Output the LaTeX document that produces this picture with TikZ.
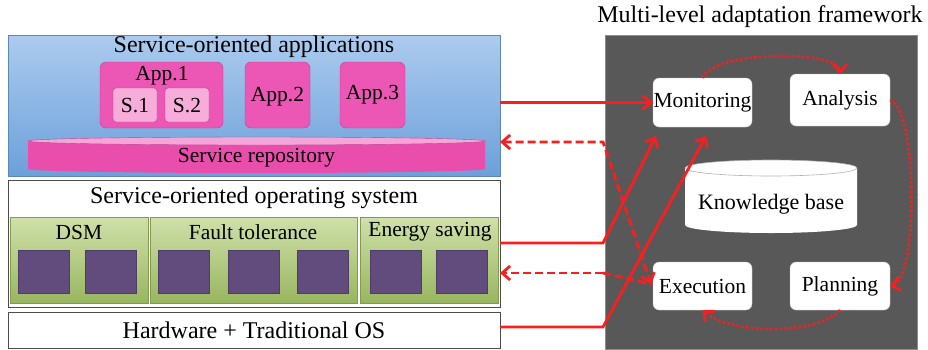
\documentclass[tikz,border=0pt]{standalone}
\usepackage{fontspec}
\setmainfont{Liberation Serif}
\usetikzlibrary{arrows.meta,calc}
\definecolor{redarr}{RGB}{250,30,30}
\definecolor{appink}{RGB}{236,86,180}
\definecolor{spink}{RGB}{248,172,218}
\definecolor{repopink}{RGB}{233,78,172}
\definecolor{repotop}{RGB}{246,165,216}
\definecolor{bluetop}{RGB}{172,203,238}
\definecolor{bluebot}{RGB}{108,160,218}
\definecolor{greentop}{RGB}{208,224,170}
\definecolor{greenbot}{RGB}{152,182,94}
\definecolor{purp}{RGB}{98,76,126}
\definecolor{panel}{RGB}{88,88,88}
\tikzset{
 big/.style={font=\fontsize{24}{28}\selectfont, inner sep=0pt},
 mid/.style={font=\fontsize{21.5}{25}\selectfont, inner sep=0pt},
 box/.style={inner sep=0pt, outer sep=0pt, anchor=north west},
 appbox/.style={box, draw=appink!80!black, fill=appink, rounded corners=6pt},
 sbox/.style={box, draw=appink!75!black, fill=spink, rounded corners=3pt},
 frame/.style={box, draw=black!70, line width=1pt, fill=white},
 sect/.style={box, top color=greentop, bottom color=greenbot, draw=greenbot!85!black, line width=0.4pt},
 chip/.style={box, fill=purp, draw=purp!80!black},
 stage/.style={fill=white, rounded corners=6pt, draw=black!25, inner sep=0pt, outer sep=0pt, font=\fontsize{21.5}{25}\selectfont},
 conn/.style={draw=redarr, line width=2.8pt},
 tip/.style={-{Straight Barb[length=8pt,width=14pt]}},
 tips/.style={{Straight Barb[length=8pt,width=14pt]}-{Straight Barb[length=8pt,width=14pt]}},
 dashy/.style={dash pattern=on 8pt off 4pt},
 dotty/.style={draw=redarr, line width=2.6pt, dash pattern=on 2.4pt off 2.4pt}
}
\begin{document}
\begin{tikzpicture}[x=1pt,y=-1pt]
\useasboundingbox (0,0) rectangle (928,349);
\fill[white] (0,0) rectangle (928,349);

% ---------- left: applications layer
\node[box, top color=bluetop, bottom color=bluebot, draw=bluebot!85!black, minimum width=492pt, minimum height=141pt] (apps) at (8,35) {};
\node[big] (tapps) at (254,47) {Service-oriented applications};
\node[appbox, minimum width=123pt, minimum height=66pt] (app1) at (100,62) {};
\node[mid] (tapp1) at (162,76) {App.1};
\node[sbox, minimum width=44pt, minimum height=34pt] (s1) at (113,88) {};
\node[sbox, minimum width=44pt, minimum height=34pt] (s2) at (165,88) {};
\node[mid] (ts1) at (135,106) {S.1};
\node[mid] (ts2) at (187,106) {S.2};
\node[appbox, minimum width=65pt, minimum height=66pt] (app2) at (245,62) {};
\node[mid] (tapp2) at (277.5,97) {App.2};
\node[appbox, minimum width=65pt, minimum height=66pt] (app3) at (340,62) {};
\node[mid] (tapp3) at (372.5,95) {App.3};
% service repository (flat cylinder)
\fill[repopink] (28,141) -- (28,169) arc[start angle=180,end angle=0,x radius=228.5,y radius=4] -- (485,141) -- cycle;
\filldraw[fill=repotop, draw=appink!80!black, line width=0.4pt] (256.5,141) ellipse[x radius=228.5, y radius=4];
\node[mid] (repo) at (256.5,158) {Service repository};

% ---------- left: operating system layer
\node[frame, minimum width=492pt, minimum height=127pt] (os) at (8,180) {};
\node[big] (tos) at (254,198) {Service-oriented operating system};
\node[sect, minimum width=138pt, minimum height=86pt] (dsm) at (10,217) {};
\node[sect, minimum width=207pt, minimum height=86pt] (ft) at (150,217) {};
\node[sect, minimum width=138pt, minimum height=86pt] (es) at (360,217) {};
\node[mid] (tdsm) at (79,232) {DSM};
\node[mid] (tft) at (253,232) {Fault tolerance};
\node[mid] (tes) at (430,232) {Energy saving};
\foreach \xx/\nm in {18/c1,85/c2,158/c3,228/c4,297/c5,370/c6,436/c7}{
  \node[chip, minimum width=51pt, minimum height=43pt] (\nm) at (\xx,250) {};
}

% ---------- left: hardware layer
\node[frame, minimum width=492pt, minimum height=36pt] (hw) at (8,312) {};
\node[big] (thw) at (254,330) {Hardware + Traditional OS};

% ---------- right: framework
\node[big] (tfw) at (760,17) {Multi-level adaptation framework};
\node[box, fill=panel, draw=black!45, minimum width=312pt, minimum height=314pt] (panel) at (605,35) {};
\node[stage, minimum width=99pt, minimum height=49pt] (mon) at (702.5,102.5) {Monitoring};
\node[stage, minimum width=100pt, minimum height=52pt] (ana) at (840,100) {Analysis};
\node[stage, minimum width=99pt, minimum height=48pt] (exec) at (702.5,286) {Execution};
\node[stage, minimum width=100pt, minimum height=48pt] (plan) at (840,286) {Planning};
% knowledge base cylinder
\fill[white] (685,168) -- (685,225) arc[start angle=180,end angle=0,x radius=86,y radius=8] -- (857,168) -- cycle;
\filldraw[fill=white, draw=black!30, line width=0.6pt] (771,168) ellipse[x radius=86, y radius=8];
\node[font=\fontsize{22}{26}\selectfont, inner sep=0pt] (kb) at (771,204) {Knowledge base};

% ---------- connectors
\coordinate (ja) at (603,243);
\coordinate (jb) at (603,327);
\coordinate (jc) at (603,142);
\coordinate (jd) at (603,273);
\coordinate (ma) at (656,136);
\coordinate (mb) at (706,136);
\coordinate (ea) at (651,284);

\draw[conn,tips,dashy] (jc -| apps.east) -- (jc) -- (ea);
\draw[conn,tip,dashy] (jd) -- (jd -| apps.east);
\draw[conn,dashy] (jd) -- (ea);
\draw[conn,tip] (mon.west -| apps.east) -- (mon.west);
\draw[conn,tip] (ja -| apps.east) -- (ja) -- (ma);
\draw[conn,tip] (jb -| hw.east) -- (jb) -- (mb);

\draw[dotty,tip] (mon.north) .. controls (713,50) and (840,50) .. (ana.north);
\draw[dotty,tip] (ana.east) .. controls (918,108) and (918,280) .. (plan.east);
\draw[dotty,tip] (plan.south) .. controls (820,335) and (730,335) .. (exec.south);
\end{tikzpicture}
\end{document}
